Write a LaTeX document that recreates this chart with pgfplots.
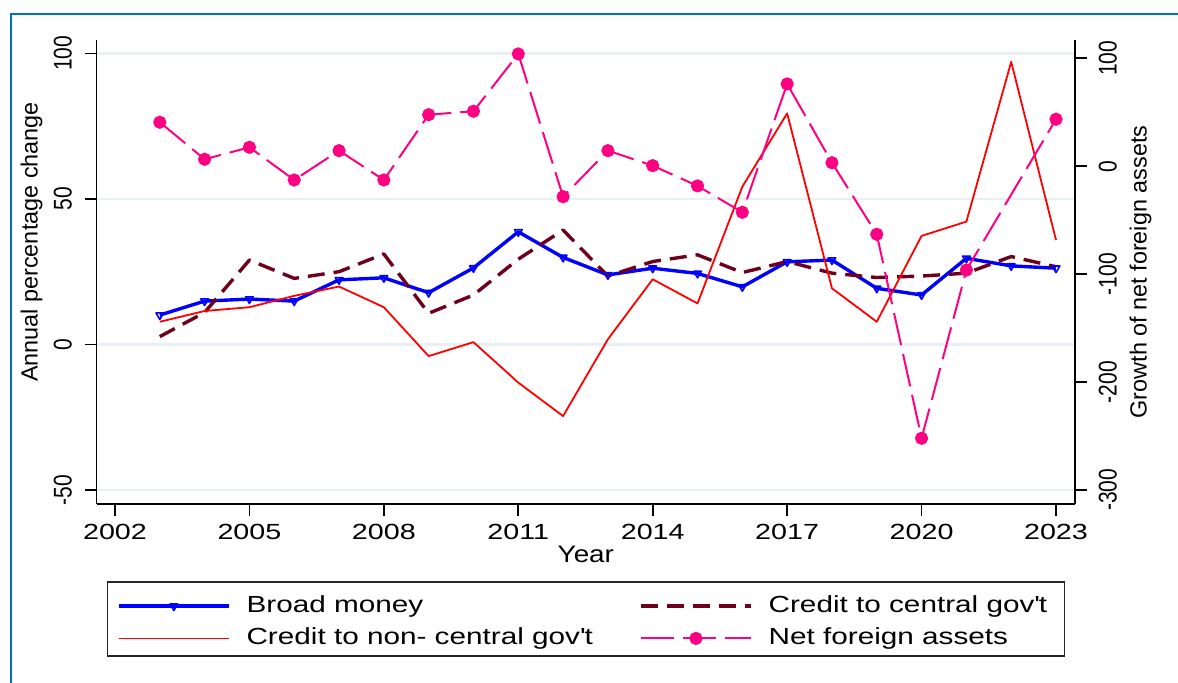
\documentclass[border=0pt]{standalone}
\usepackage{pgfplots}
\usepackage{pgfplotstable}
\pgfplotsset{compat=1.18}
\usepackage{fontspec}
\setmainfont{Liberation Sans}[FakeStretch=1.275]
\newfontfamily\tickfont{Liberation Sans}[FakeStretch=1.31]
\newfontfamily\yearfont{Liberation Sans}[FakeStretch=1.17]
\newfontfamily\rotfont{Liberation Sans}[FakeStretch=0.82]
\newfontfamily\titlefont{Liberation Sans}

\definecolor{bmblue}{RGB}{0,0,255}
\definecolor{cgmaroon}{RGB}{110,0,28}
\definecolor{ncred}{RGB}{255,0,0}
\definecolor{nfpink}{RGB}{255,0,130}
\definecolor{gridc}{RGB}{232,240,243}
\definecolor{frameblue}{RGB}{0,114,198}

\pgfplotstableread{
year bm cg nc
2003 10.1 2.7 7.8
2004 14.9 11.0 11.5
2005 15.6 29.0 12.8
2006 14.9 22.7 16.7
2007 22.2 25.0 19.9
2008 22.9 31.1 12.8
2009 17.8 10.7 -4.0
2010 26.3 17.0 0.8
2011 38.7 29.3 -13.1
2012 29.9 39.3 -24.6
2013 23.9 23.5 1.8
2014 26.2 28.5 22.4
2015 24.4 30.8 14.1
2016 19.8 24.7 54.2
2017 28.4 28.5 79.4
2018 29.0 24.5 19.3
2019 19.3 23.0 7.8
2020 17.0 23.5 37.3
2021 29.6 24.5 42.2
2022 27.0 30.2 97.1
2023 26.2 26.7 35.9
}\leftdata

\pgfplotstableread{
year nfa
2003 40.7
2004 6.4
2005 17.5
2006 -12.8
2007 14.4
2008 -12.8
2009 47.7
2010 50.9
2011 104.0
2012 -28.3
2013 14.4
2014 0.5
2015 -18.3
2016 -42.7
2017 76.2
2018 3.2
2019 -63.1
2020 -252.1
2021 -96.2
2023 43.5
}\rightdata

\pgfplotsset{
  bmstyle/.style={bmblue, line width=1.7pt, line join=round, mark=triangle, mark size=2.2pt, mark options={rotate=180, solid, line width=0.8pt}},
  cgstyle/.style={cgmaroon, line width=1.7pt, dash pattern=on 8.5pt off 4.5pt, line join=round},
  ncstyle/.style={ncred, line width=0.9pt, line join=round},
  nfstyle/.style={nfpink, line width=1pt, dash pattern=on 16.5pt off 4.5pt, line join=round, mark=*, mark size=2.8pt, mark options={solid}},
}

\begin{document}
\begin{tikzpicture}
\useasboundingbox (0pt,0pt) rectangle (589pt,341pt);
\draw[frameblue, line width=1pt] (5.5pt,-5pt) -- (5.5pt,333.75pt) -- (600pt,333.75pt);

\begin{axis}[
  at={(48.35pt,89pt)}, anchor=south west,
  width=489.15pt, height=232pt, scale only axis,
  xmin=2001.592, xmax=2023.424,
  ymin=-54.81, ymax=104.6,
  axis x line*=bottom, axis y line*=left,
  axis line style={black, line width=0.8pt},
  xtick={2002,2005,2008,2011,2014,2017,2020,2023},
  xticklabels={2002,2005,2008,2011,2014,2017,2020,2023},
  ytick={-50,0,50,100},
  yticklabels={-50,0,50,100},
  tick align=outside, major tick length=5.75pt,
  tick style={black, line width=0.8pt},
  ymajorgrids, grid style={gridc, line width=1.2pt},
  xticklabel style={font=\tickfont\fontsize{10.95}{12}\selectfont, anchor=north, inner sep=0pt},
  xticklabel shift=4.25pt,
  yticklabel style={font=\rotfont\fontsize{12.8}{14}\selectfont, rotate=90, anchor=south, inner sep=0pt},
  yticklabel shift=6.45pt,
  xlabel={Year},
  xlabel style={font=\yearfont\fontsize{11.9}{14}\selectfont, at={(axis description cs:0.5,-0.1265)}, anchor=base, inner sep=0pt},
  ylabel={Annual percentage change},
  ylabel style={font=\titlefont\fontsize{11.7}{14}\selectfont, at={(axis description cs:-0.0603,0.5647)}, anchor=base, inner sep=0pt},
]
\addplot[bmstyle] table[x=year,y=bm]{\leftdata};
\addplot[cgstyle] table[x=year,y=cg]{\leftdata};
\addplot[ncstyle] table[x=year,y=nc]{\leftdata};
\end{axis}

\begin{axis}[
  at={(48.35pt,89pt)}, anchor=south west,
  width=489.15pt, height=232pt, scale only axis,
  xmin=2001.592, xmax=2023.424,
  ymin=-313.0, ymax=116.9,
  axis x line=none, axis y line*=right,
  axis line style={black, line width=0.8pt},
  ytick={-300,-200,-100,0,100},
  yticklabels={-300,-200,-100,0,100},
  tick align=outside, major tick length=5.75pt,
  tick style={black, line width=0.8pt},
  yticklabel style={font=\rotfont\fontsize{12.8}{14}\selectfont, rotate=90, anchor=north, inner sep=0pt},
  yticklabel shift=5.9pt,
  ylabel={Growth of net foreign assets},
  ylabel style={font=\titlefont\fontsize{11.7}{14}\selectfont, at={(axis description cs:1.0731,0.5)}, anchor=base, inner sep=0pt},
  legend columns=2,
  legend cell align=left,
  legend style={draw=none, fill=none, at={(axis description cs:0.0205,-0.1955)}, anchor=north west,
    inner sep=0pt, row sep=5.15pt, column sep=8pt,
    font=\fontsize{11.65}{14}\selectfont,
    nodes={inner sep=0pt, text height=8.5pt, text depth=2.5pt}},
  legend image code/.code={\draw[mark repeat=2, mark phase=2, #1] plot coordinates {(0pt,0pt) (27.5pt,0pt) (55pt,0pt)};},
]
\addlegendimage{bmstyle}
\addlegendentry{Broad money}
\addlegendimage{cgstyle}
\addlegendentry{Credit to central gov\textquotesingle t}
\addlegendimage{ncstyle}
\addlegendentry{\makebox[188.35pt][l]{Credit to non- central gov\textquotesingle t}}
\addplot[nfstyle] table[x=year,y=nfa]{\rightdata};
\addlegendentry{Net foreign assets}
\end{axis}

\draw[black!85, line width=0.8pt] (53.65pt,13pt) rectangle (532.15pt,50.15pt);
\end{tikzpicture}
\end{document}
